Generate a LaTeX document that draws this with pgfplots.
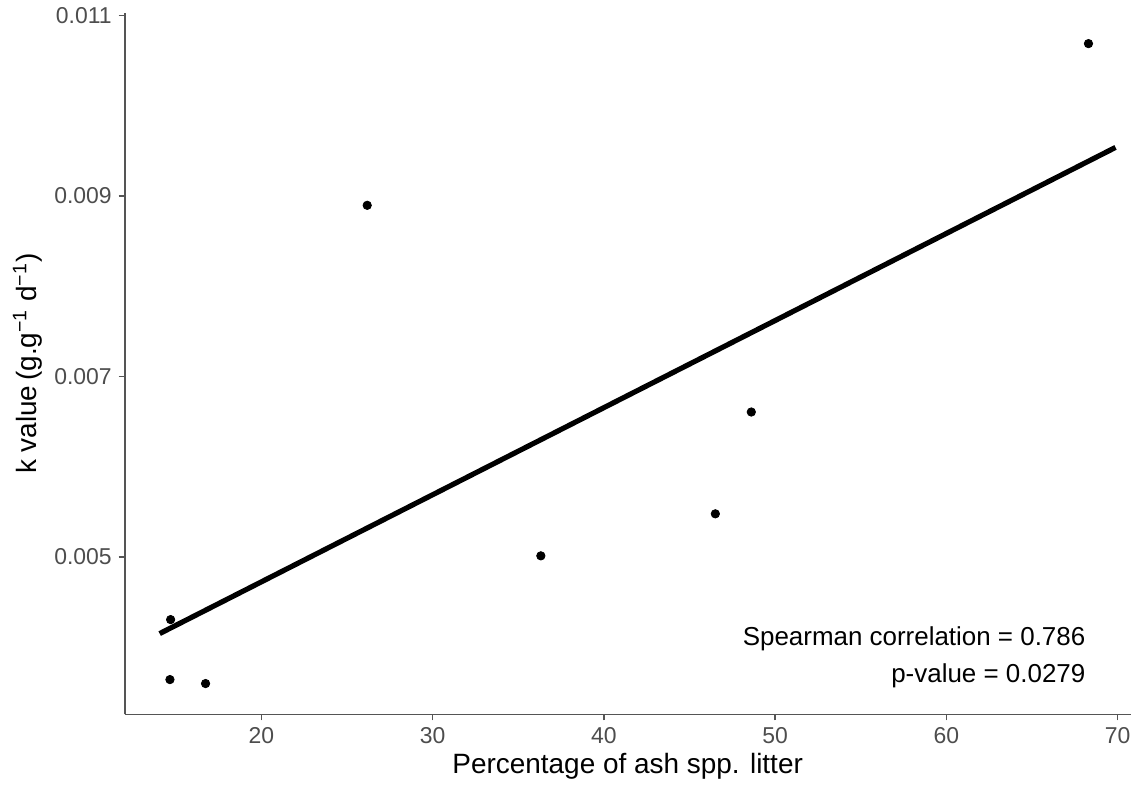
\documentclass[border=0pt]{standalone}
\usepackage{fontspec}
\setmainfont{Liberation Sans}
\usepackage{pgfplots}
\pgfplotsset{compat=1.18}
\definecolor{TickGray}{HTML}{4D4D4D}
\definecolor{AxisGray}{HTML}{555555}

\begin{document}
\begin{tikzpicture}
\begin{axis}[
  scale only axis,
  width=504pt, height=351.5pt,
  xmin=12.02, xmax=70.76,
  ymin=0.003251, ymax=0.01103,
  axis lines*=left,
  axis line style={AxisGray, line width=0.8pt},
  xtick={20,30,40,50,60,70},
  ytick={0.005,0.007,0.009,0.011},
  yticklabels={0.005,0.007,0.009,0.011},
  scaled y ticks=false,
  tick align=outside,
  major tick length=3pt,
  tick style={AxisGray, line width=0.8pt},
  ticklabel style={font=\fontsize{11.5}{13}\selectfont, text=TickGray},
  /pgf/number format/assume math mode=true,
  xlabel={Percentage of ash spp. litter},
  ylabel={k value\,(g.g\textsuperscript{−1} d\textsuperscript{−1})},
  label style={font=\fontsize{14}{16}\selectfont},
  xlabel style={yshift=2pt},
  ylabel style={yshift=-1pt},
  clip=false,
]
% observed points
\addplot[only marks, mark=*, mark size=2.1pt, black] coordinates {
  (14.70,0.004303)
  (14.66,0.003638)
  (16.74,0.003594)
  (26.18,0.008897)
  (36.32,0.005010)
  (46.51,0.005476)
  (48.61,0.006605)
  (68.30,0.010690)
};
% fitted line
\addplot[black, line width=2.6pt] coordinates {
  (14.06,0.004148)
  (69.88,0.009539)
};
\node[anchor=east, font=\fontsize{13}{15}\selectfont, inner sep=0pt] at (axis cs:68.14,0.004092) {Spearman correlation = 0.786};
\node[anchor=east, font=\fontsize{13}{15}\selectfont, inner sep=0pt] at (axis cs:68.14,0.003683) {p-value = 0.0279};
\end{axis}
\path ([xshift=-62.5pt,yshift=-35pt]current axis.south west) rectangle ([xshift=2pt,yshift=6.5pt]current axis.north east);
\end{tikzpicture}
\end{document}
